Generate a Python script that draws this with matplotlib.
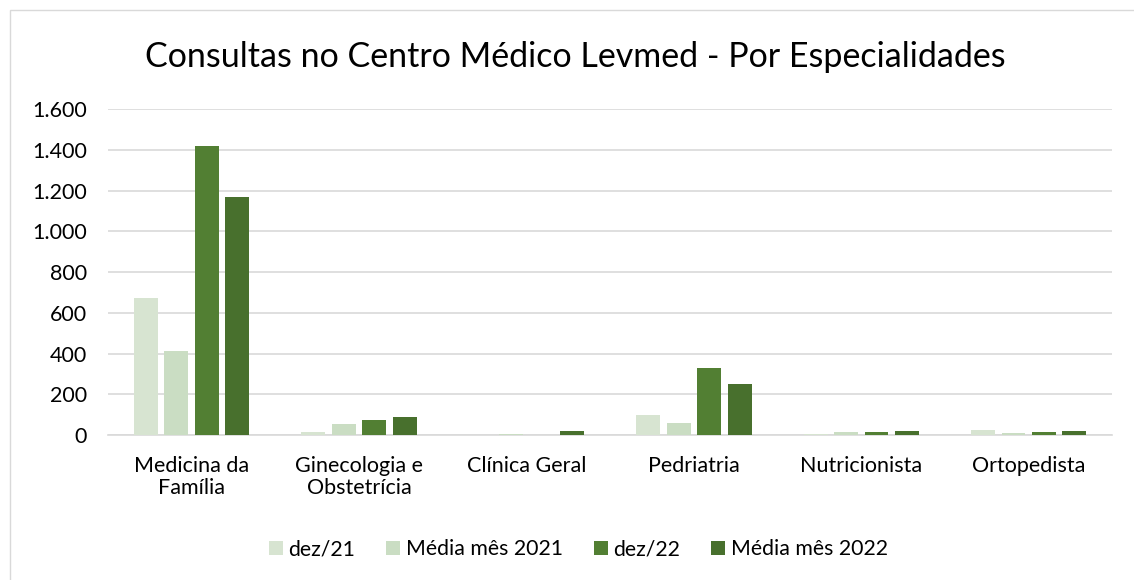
import numpy as np
import matplotlib.pyplot as plt
from matplotlib.patches import Rectangle
from matplotlib.ticker import FuncFormatter

plt.rcParams['font.family'] = ['Lato', 'DejaVu Sans']

especialidades = ['Medicina da\nFamília', 'Ginecologia e\nObstetrícia', 'Clínica Geral',
                  'Pedriatria', 'Nutricionista', 'Ortopedista']
series = ['dez/21', 'Média mês 2021', 'dez/22', 'Média mês 2022']
dez21 = [673, 13, 0, 98, 7, 26]
media21 = [412, 52, 5, 60, 16, 8]
dez22 = [1420, 75, 0, 329, 15, 15]
media22 = [1170, 88, 21, 250, 19, 19]
cores = ['#D7E4D1', '#CADDC3', '#527F33', '#48702D']

fig = plt.figure(figsize=(11.34, 5.8), dpi=100)
fig.patches.append(Rectangle((10 / 1134, -0.1), 1.2, 1 - 10 / 580 + 0.1, transform=fig.transFigure,
                             fill=False, edgecolor='#D9D9D9', linewidth=1))
ax = fig.add_axes([0.095, 0.25, 0.886, 0.562])

x = np.arange(len(especialidades))
w = 0.143
step = 0.182
for i, (vals, nome) in enumerate(zip([dez21, media21, dez22, media22], series)):
    ax.bar(x + (i - 1.5) * step, vals, width=w, color=cores[i], label=nome, zorder=3)

ax.set_xlim(-0.5, 5.5)
ax.set_ylim(0, 1600)
ax.set_yticks(range(0, 1601, 200))
ax.yaxis.set_major_formatter(FuncFormatter(lambda v, p: f'{int(v):,}'.replace(',', '.')))
ax.grid(axis='y', color='#D9D9D9', linewidth=1.2, zorder=0)
for s in ['top', 'right', 'left']:
    ax.spines[s].set_visible(False)
ax.spines['bottom'].set_color('#D9D9D9')
ax.spines['bottom'].set_linewidth(1.2)
ax.tick_params(axis='both', length=0, labelsize=15.5, colors='black')
ax.tick_params(axis='x', pad=15)
ax.tick_params(axis='y', pad=15)
ax.set_xticks(x)
ax.set_xticklabels(especialidades, linespacing=1.15)

fig.text(0.507, 0.902, 'Consultas no Centro Médico Levmed - Por Especialidades',
         ha='center', va='center', fontsize=24.5)

fig.legend(loc='center', bbox_to_anchor=(0.510, 0.053), ncol=4, frameon=False, fontsize=15.3,
           handlelength=0.65, handleheight=0.65, handletextpad=0.28, columnspacing=1.45)

fig.savefig('out.png', dpi=100)
